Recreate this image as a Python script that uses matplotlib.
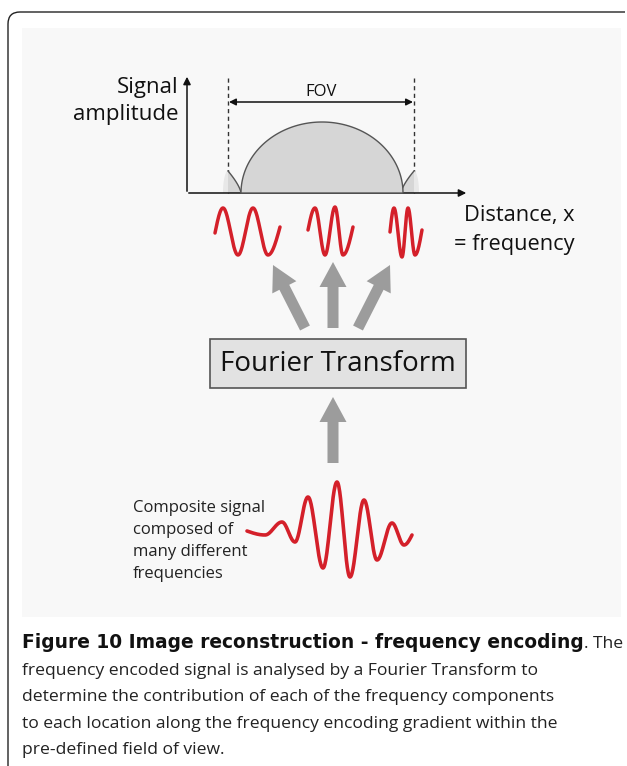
import numpy as np
import matplotlib.pyplot as plt
from matplotlib.patches import FancyArrow, Rectangle, PathPatch
from matplotlib.path import Path

plt.rcParams['font.family'] = ['Open Sans', 'DejaVu Sans']

# wave extremes (x position, y position in pixels)
wave1_x = [215, 223, 238, 253, 268, 280]
wave1_y = [233, 208, 255, 208, 255, 227]
wave2_x = [308, 315, 325, 335, 343, 353]
wave2_y = [230, 208, 255, 207, 255, 227]
wave3_x = [390, 394, 402, 408, 415, 422]
wave3_y = [232, 208, 257, 208, 255, 230]
comp_x = [247, 265, 282, 295, 308, 323, 337, 350, 364, 377, 392, 404, 412]
comp_y = [531, 535, 522, 542, 497, 568, 482, 577, 500, 560, 523, 545, 535]

axis_label = ['Signal', 'amplitude']
dist_label = ['Distance, x', '= frequency']
box_label = 'Fourier Transform'
comp_label = ['Composite signal', 'composed of', 'many different', 'frequencies']
cap_bold = 'Figure 10 Image reconstruction - frequency encoding'
cap_lines = ['. The',
             'frequency encoded signal is analysed by a Fourier Transform to',
             'determine the contribution of each of the frequency components',
             'to each location along the frequency encoding gradient within the',
             'pre-defined field of view.']

RED = '#d4202a'
ARROW_GREY = '#9c9c9c'


def smooth_wave(xs, ys, n=30):
    """join the extremes with half cosines, quarter sines at both ends"""
    px, py = [], []
    last = len(xs) - 2
    for i in range(len(xs) - 1):
        t = np.linspace(0, 1, n)
        if i == 0:
            f = np.sin(np.pi / 2 * t)
        elif i == last:
            f = 1 - np.cos(np.pi / 2 * t)
        else:
            f = (1 - np.cos(np.pi * t)) / 2
        px.extend(xs[i] + (xs[i + 1] - xs[i]) * t)
        py.extend(ys[i] + (ys[i + 1] - ys[i]) * f)
    return np.array(px), np.array(py)


fig = plt.figure(figsize=(6.27, 7.66), dpi=100)
ax = fig.add_axes([0, 0, 1, 1])
ax.set_xlim(0, 627)
ax.set_ylim(766, 0)
ax.axis('off')

# frame round the figure and the grey picture panel
frame = Path([(8, 766), (8, 24), (8, 12), (20, 12), (625, 12)],
             [Path.MOVETO, Path.LINETO, Path.CURVE3, Path.CURVE3, Path.LINETO])
ax.add_patch(PathPatch(frame, fill=False, lw=1.0, ec='#222'))
ax.add_patch(Rectangle((22, 28), 599, 589, fc='#f8f8f8', ec='none'))

# signal amplitude plot
ax.annotate('', xy=(187, 74), xytext=(187, 194),
            arrowprops=dict(arrowstyle='-|>', lw=1.1, color='#111', mutation_scale=11))
ax.annotate('', xy=(469, 193), xytext=(186, 193),
            arrowprops=dict(arrowstyle='-|>', lw=1.1, color='#111', mutation_scale=11))
for xd in (228, 414):
    ax.plot([xd, xd], [78, 193], ls=(0, (3, 2.5)), lw=1.0, color='#333')
ax.annotate('', xy=(229, 102), xytext=(413, 102),
            arrowprops=dict(arrowstyle='<|-|>', lw=1.1, color='#111',
                            mutation_scale=10, shrinkA=0, shrinkB=0))
ax.text(321, 96, 'FOV', ha='center', va='baseline', fontsize=12, color='#111')

# side lobes next to the dashed lines
q = np.linspace(0, np.pi / 2, 60)
for xd, sgn in ((228, 1), (414, -1)):
    lx = xd + sgn * 13 * (1 - np.cos(q))
    ly = 193 - 22 * np.cos(q) ** 0.7
    ox = xd - sgn * 5 * np.sin(q)
    oy = 193 - 22 * np.cos(q)
    ax.fill(np.r_[ox, xd], np.r_[oy, 193], fc='#e8e8e8', ec='none', zorder=2)
    ax.fill(np.r_[lx, xd], np.r_[ly, 193], fc='#d6d6d6', ec='none', zorder=2)
    ax.plot(lx, ly, color='#555', lw=1.0, zorder=3)

# main lobe
th = np.linspace(0, np.pi, 200)
ex = 322 + 81 * np.cos(th)
ey = 193 - 71 * np.sin(th)
ax.fill(ex, ey, fc='#d6d6d6', ec='#555', lw=1.0, zorder=3)

for i, s in enumerate(axis_label):
    ax.text(178, 93 + 27 * i, s, ha='right', va='baseline', fontsize=16, color='#111')
for i, s in enumerate(dist_label):
    ax.text(574, 221 + 29 * i, s, ha='right', va='baseline', fontsize=15.7, color='#111')

# the three single frequencies
for wx, wy in ((wave1_x, wave1_y), (wave2_x, wave2_y), (wave3_x, wave3_y)):
    sx, sy = smooth_wave(wx, wy)
    ax.plot(sx, sy, color=RED, lw=2.5, solid_capstyle='round')

# grey arrows
arrows = [((305, 328), (273, 265)), ((333, 328), (333, 262)), ((358, 328), (390, 265)),
          ((333, 463), (333, 397))]
for (x0, y0), (x1, y1) in arrows:
    ax.add_patch(FancyArrow(x0, y0, x1 - x0, y1 - y0, width=11, head_width=27,
                            head_length=25, length_includes_head=True,
                            fc=ARROW_GREY, ec='none'))

# Fourier transform box
ax.add_patch(Rectangle((210, 339), 256, 49, fc='#e2e2e2', ec='#555', lw=1.2))
ax.text(338, 364, box_label, ha='center', va='center', fontsize=20, color='#111')

# composite signal
cx, cy = smooth_wave(comp_x, comp_y)
ax.plot(cx, cy, color=RED, lw=2.6, solid_capstyle='round')
for i, s in enumerate(comp_label):
    ax.text(133, 512 + 22 * i, s, ha='left', va='baseline', fontsize=12, color='#222')

# caption, bold start then normal text
cap_size = 12.6
b = ax.text(22, 648, cap_bold, ha='left', va='baseline', fontsize=13.4,
            fontweight='bold', family='DejaVu Sans', color='#111')
fig.canvas.draw()
bb = b.get_window_extent(fig.canvas.get_renderer())
x_end = ax.transData.inverted().transform((bb.x1, bb.y0))[0]
ax.text(x_end, 648, cap_lines[0], ha='left', va='baseline', fontsize=cap_size, color='#222')
for i, line in enumerate(cap_lines[1:], start=1):
    ax.text(22, 648 + 26.6 * i, line, ha='left', va='baseline', fontsize=cap_size, color='#222')

fig.savefig('out.png', dpi=100)
